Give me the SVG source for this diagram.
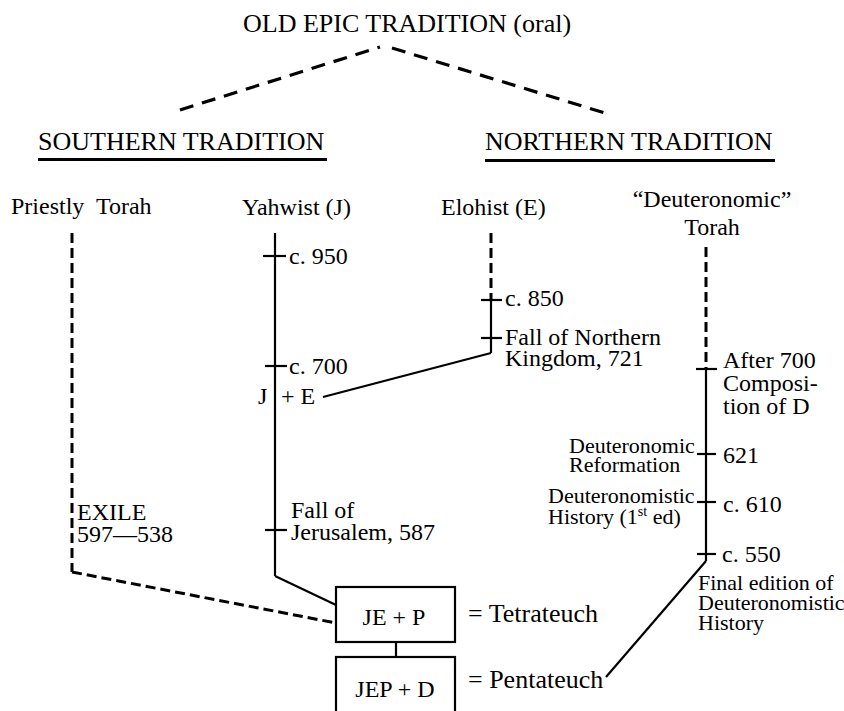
<svg xmlns="http://www.w3.org/2000/svg" width="844" height="711" viewBox="0 0 844 711">
<style>
text{font-family:"Liberation Serif","Times New Roman",serif;fill:#000}
.h{font-size:26px}
.m{font-size:24px}
.s{font-size:22px}
.sol{stroke:#000;stroke-width:2.2;fill:none}
.dash{stroke:#000;stroke-width:3;fill:none;stroke-dasharray:10 5}
.tdash{stroke:#000;stroke-width:3.2;fill:none;stroke-dasharray:14 9}
.box{stroke:#000;stroke-width:2.2;fill:#fff}
</style>
<rect width="844" height="711" fill="#fff"/>
<g id="connectors">
<line class="tdash" x1="180" y1="110" x2="380" y2="47"/>
<line class="tdash" x1="392" y1="48" x2="605" y2="113"/>
<line class="dash" x1="72" y1="233" x2="72" y2="572"/>
<line class="dash" x1="72" y1="572" x2="336" y2="623"/>
<line class="sol" x1="275" y1="233" x2="275" y2="576"/>
<line class="sol" x1="275" y1="576" x2="336" y2="605"/>
<line class="sol" x1="263" y1="256" x2="286" y2="256"/>
<line class="sol" x1="265" y1="366" x2="287" y2="366"/>
<line class="sol" x1="265" y1="530" x2="287" y2="530"/>
<line class="dash" x1="491" y1="233" x2="491" y2="299"/>
<line class="sol" x1="491" y1="299" x2="491" y2="353"/>
<line class="sol" x1="481" y1="300" x2="502" y2="300"/>
<line class="sol" x1="481" y1="338" x2="502" y2="338"/>
<line class="sol" x1="491" y1="353" x2="323" y2="397"/>
<line class="dash" x1="706" y1="247" x2="706" y2="368"/>
<line class="sol" x1="706" y1="368" x2="706" y2="561"/>
<line class="sol" x1="696" y1="369" x2="717" y2="369"/>
<line class="sol" x1="697" y1="454" x2="716" y2="454"/>
<line class="sol" x1="697" y1="502" x2="716" y2="502"/>
<line class="sol" x1="697" y1="554" x2="716" y2="554"/>
<line class="sol" x1="706" y1="561" x2="606" y2="677"/>
<line class="sol" x1="396" y1="642" x2="396" y2="657"/>
</g>
<g id="title"><text class="h" x="243" y="32">OLD EPIC TRADITION (oral)</text></g>
<g id="southern"><text class="h" x="38" y="150">SOUTHERN TRADITION</text><line x1="38" y1="159.5" x2="327" y2="159.5" stroke="#000" stroke-width="3"/></g>
<g id="northern"><text class="h" x="485" y="150">NORTHERN TRADITION</text><line x1="485" y1="160.5" x2="775" y2="160.5" stroke="#000" stroke-width="3"/></g>
<g id="priestly"><text class="m" x="11" y="214" xml:space="preserve">Priestly  Torah</text></g>
<g id="yahwist"><text class="m" x="242" y="215">Yahwist (J)</text></g>
<g id="elohist"><text class="m" x="441" y="215">Elohist (E)</text></g>
<g id="deut-torah"><text class="m" text-anchor="middle"><tspan x="712" y="207">“Deuteronomic”</tspan><tspan x="712" y="235">Torah</tspan></text></g>
<g id="c950"><text class="m" x="289" y="264">c. 950</text></g>
<g id="c700"><text class="m" x="289" y="374">c. 700</text></g>
<g id="je"><text class="m" x="258" y="404">J <tspan x="281">+ E</tspan></text></g>
<g id="jerusalem"><text class="m"><tspan x="291" y="518">Fall of</tspan><tspan x="291" y="540">Jerusalem, 587</tspan></text></g>
<g id="exile"><text class="m"><tspan x="77" y="520">EXILE</tspan><tspan x="77" y="542">597—538</tspan></text></g>
<g id="c850"><text class="m" x="505" y="306">c. 850</text></g>
<g id="fall-north"><text class="m"><tspan x="505" y="345">Fall of Northern</tspan><tspan x="505" y="366">Kingdom, 721</tspan></text></g>
<g id="after700"><text class="m"><tspan x="723" y="368">After 700</tspan><tspan x="723" y="391">Composi-</tspan><tspan x="723" y="414">tion of D</tspan></text></g>
<g id="d621"><text class="s"><tspan x="569" y="453">Deuteronomic</tspan><tspan x="569" y="472">Reformation</tspan></text><text class="m" x="723" y="463">621</text></g>
<g id="c610"><text class="s"><tspan x="548" y="503">Deuteronomistic</tspan><tspan x="548" y="524">History (1</tspan><tspan font-size="14" dy="-8">st</tspan><tspan dy="8"> ed)</tspan></text><text class="m" x="723" y="512">c. 610</text></g>
<g id="c550"><text class="m" x="722" y="562">c. 550</text><text class="s"><tspan x="698" y="590">Final edition of</tspan><tspan x="698" y="610">Deuteronomistic</tspan><tspan x="698" y="630">History</tspan></text></g>
<g id="jep"><rect class="box" x="336" y="587" width="119" height="55"/><text class="m" x="394" y="625" text-anchor="middle">JE + P</text><text class="h" x="468" y="622">= Tetrateuch</text></g>
<g id="jepd"><rect class="box" x="336" y="657" width="119" height="60"/><text class="m" x="395" y="697" text-anchor="middle">JEP + D</text><text class="h" x="468" y="688">= Pentateuch</text></g>
</svg>
